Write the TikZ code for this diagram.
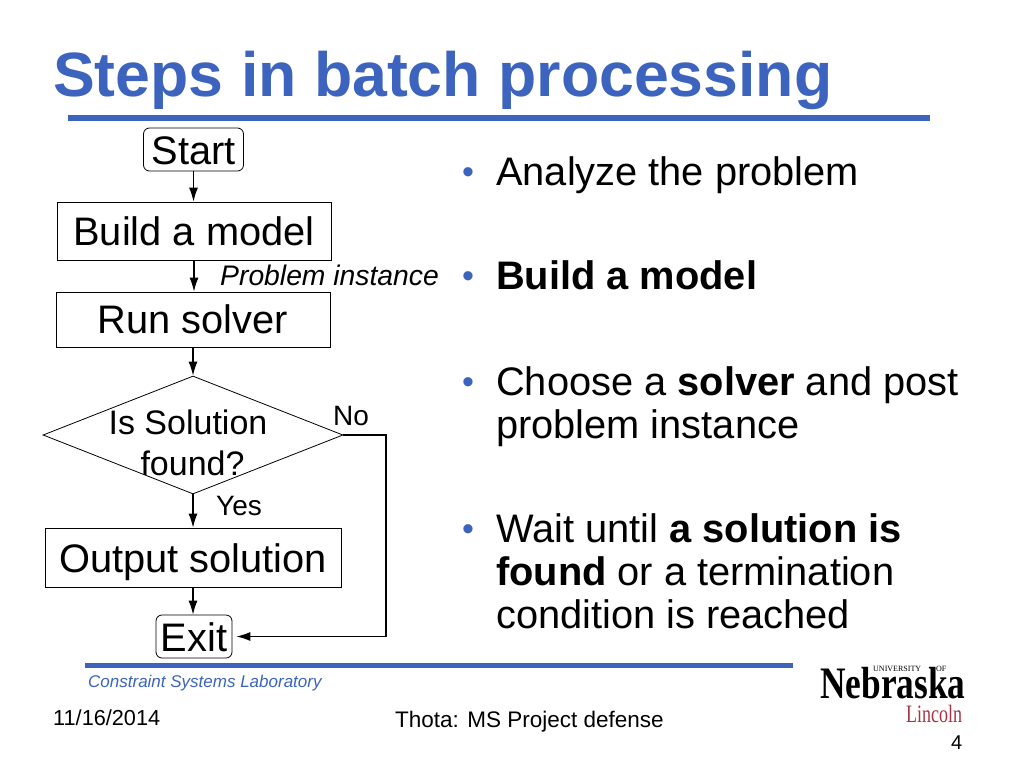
\documentclass[tikz,border=0pt]{standalone}
\usepackage{fontspec}
\setmainfont{Liberation Sans}
\newfontfamily\logofont{Liberation Serif}
\usetikzlibrary{shapes.geometric,arrows.meta}
\definecolor{slideblue}{RGB}{60,100,190}
\definecolor{logored}{RGB}{170,50,70}
\tikzstyle{every node}=[inner sep=0pt,text=black]
\tikzstyle{process}=[draw=black,line width=0.8pt,minimum height=55pt,text height=28pt,text depth=0pt,font=\fontsize{39.8}{45}\selectfont]
\tikzstyle{terminal}=[process,rounded corners=6pt,minimum height=43pt,text height=30pt]
\tikzstyle{decision}=[draw=black,line width=0.8pt,diamond,aspect=2.54,minimum width=300pt,minimum height=118pt]
\tikzstyle{flow}=[draw=black,line width=1.1pt,-{Latex[length=14pt,width=9pt]}]
\tikzstyle{note}=[anchor=base west]
\tikzstyle{point}=[anchor=north west,align=left,font=\fontsize{39.8}{43.4}\selectfont]
\tikzstyle{dot}=[anchor=base,text=slideblue,font=\fontsize{34}{34}\selectfont]

\begin{document}
\begin{tikzpicture}[x=1pt,y=-1pt]
    \useasboundingbox (0,0) rectangle (1024,768);
    \node[note,text=slideblue,font=\fontsize{62.6}{70}\selectfont\bfseries] (title) at (53,96) {Steps in batch processing};
    \draw[slideblue,line width=6pt] (68,118) -- (930,118);

    % flow chart
    \node[terminal,minimum width=100pt] (start) at (193.5,149.5) {Start};
    \node[process,minimum width=274pt,minimum height=58pt] (build) at (194,231) {Build a model};
    \node[process,minimum width=274pt] (run) at (193,319.5) {Run solver};
    \node[decision] (found) at (193,435) {};
    \node[align=center,font=\fontsize{34}{41.5}\selectfont] (foundtext) at (188,443) {Is Solution\\\hspace*{9pt}found?};
    \node[process,minimum width=296pt,minimum height=59pt,text height=30pt] (output) at (193,557.5) {Output solution};
    \node[terminal,minimum width=76pt] (exit) at (194,636.5) {Exit};
    \coordinate (bend) at (386,435);

    \draw[flow] (start.south) -- (start.south |- build.north);
    \draw[flow] (build.south) -- (build.south |- run.north);
    \draw[flow] (run.south) -- (run.south |- found.north);
    \draw[flow] (found.south) -- (found.south |- output.north);
    \draw[flow] (output.south) -- (output.south |- exit.north);
    \draw[flow,shorten >=4pt] (found.east) -- (bend) |- (exit.east);

    \node[note,font=\fontsize{28.3}{32}\selectfont\itshape] (instance) at (220,285) {Problem instance};
    \node[note,font=\fontsize{28}{32}\selectfont] (no) at (333,425) {No};
    \node[note,font=\fontsize{28}{32}\selectfont] (yes) at (216,515) {Yes};

    % bullets
    \node[dot] (dota) at (468,183.5) {•};
    \node[dot] (dotb) at (468,287.5) {•};
    \node[dot] (dotc) at (468,393.5) {•};
    \node[dot] (dotd) at (468,540.5) {•};
    \node[point] (analyze) at (496,156) {Analyze the problem};
    \node[point] (model) at (496,260) {\textbf{Build a model}};
    \node[point] (choose) at (496,366) {Choose a \textbf{solver} and post\\problem instance};
    \node[point] (wait) at (496,513) {Wait until \textbf{a solution is}\\\textbf{found} or a termination\\condition is reached};

    % footer
    \draw[slideblue,line width=5pt] (85,665) -- (793,665);
    \node[note,text=slideblue,font=\fontsize{17}{20}\selectfont\itshape] (lab) at (88,687) {Constraint Systems Laboratory};
    \node[note,font=\fontsize{22.5}{26}\selectfont] (talk) at (395,727) {Thota: MS Project defense};
    \node[note,font=\fontsize{21.7}{24}\selectfont] (date) at (53,725) {11/16/2014};
    \node[note,font=\fontsize{20}{24}\selectfont] (page) at (951,749) {4};

    % logo
    \node[note] (nebraska) at (820,698) {\logofont\bfseries\fontsize{45}{45}\selectfont\scalebox{0.785}[1]{Nebraska}};
    \node[note] (university) at (873,671) {\logofont\fontsize{8}{9}\selectfont UNIVERSITY};
    \node[note] (of) at (936,671) {\logofont\fontsize{8}{9}\selectfont OF};
    \node[note,text=logored] (lincoln) at (906,722) {\logofont\fontsize{25}{25}\selectfont\scalebox{0.72}[1]{Lincoln}};
\end{tikzpicture}
\end{document}
